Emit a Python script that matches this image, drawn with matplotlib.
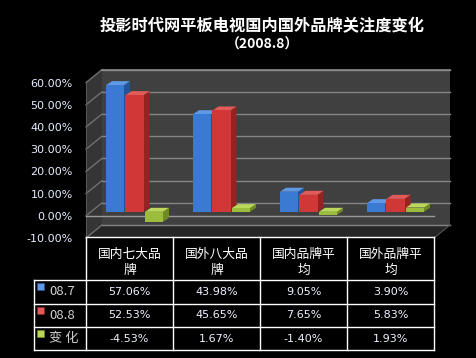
import matplotlib
matplotlib.use("Agg")
import matplotlib.pyplot as plt
from matplotlib.patches import Polygon, Rectangle
from matplotlib.transforms import blended_transform_factory

plt.rcParams['font.family'] = ['Noto Sans CJK SC', 'DejaVu Sans']

# data
categories = ["国内七大品\n牌", "国外八大品\n牌", "国内品牌平\n均", "国外品牌平\n均"]
series_names = ["08.7", "08.8", "变 化"]
jul = [57.06, 43.98, 9.05, 3.90]
aug = [52.53, 45.65, 7.65, 5.83]
change = [-4.53, 1.67, -1.40, 1.93]
yticks = [-10, 0, 10, 20, 30, 40, 50, 60]

series = [jul, aug, change]
# (front, side, top) for each series
colors = [("#3a7ad2", "#24539a", "#5e98e6"),
          ("#d03838", "#962222", "#e25a5a"),
          ("#9cbc3c", "#6f8a22", "#bcd85a")]

W, H = 477, 358
fig = plt.figure(figsize=(W / 100, H / 100), dpi=100, facecolor="black")


def box(x0, y0, x1, y1):
    return [x0 / W, 1 - y1 / H, (x1 - x0) / W, (y1 - y0) / H]


ax = fig.add_axes(box(86, 60.4, 434, 238))
ax.set_facecolor("none")
ax.set_xlim(0, 4)
ax.set_ylim(-10, 70)
for s in ax.spines.values():
    s.set_visible(False)
ax.set_xticks([])
ax.set_yticks(yticks)
ax.set_yticklabels([f"{v:.2f}%" for v in yticks], family="DejaVu Sans")
ax.tick_params(axis="y", length=0, pad=9.5, labelsize=8, labelcolor="#e6eeff")

# 3d box: back wall, side wall, floor
DX, DY = 16 / 87, 13 / 2.22
ax.add_patch(Polygon([(DX, -10 + DY), (4 + DX, -10 + DY), (4 + DX, 60 + DY), (DX, 60 + DY)],
                     fc="#404040", ec="none", zorder=0, clip_on=False))
ax.add_patch(Polygon([(0, -10), (DX, -10 + DY), (DX, 60 + DY), (0, 60)],
                     fc="#353535", ec="none", zorder=0, clip_on=False))
ax.add_patch(Polygon([(0, -10), (4, -10), (4 + DX, -10 + DY), (DX, -10 + DY)],
                     fc="#262626", ec="none", zorder=0, clip_on=False))
for v in yticks:
    ax.plot([DX, 4 + DX], [v + DY] * 2, color="#858585", lw=1, zorder=1, clip_on=False)
    ax.plot([0, DX], [v, v + DY], color="#707070", lw=1, zorder=1, clip_on=False)
ax.plot([DX, 4 + DX], [60 + DY] * 2, color="#8a8a8a", lw=1.2, zorder=1, clip_on=False)
ax.plot([0, 0], [-10, 60], color="#555555", lw=0.8, zorder=1, clip_on=False)
ax.plot([4, 4 + DX], [-10, -10 + DY], color="#555555", lw=0.8, zorder=1, clip_on=False)
ax.plot([0, 4], [0, 0], color="#9a9a9a", lw=1, zorder=1.5, clip_on=False)

# bars
bw, step, off = 0.207, 0.224, 0.23
bdx, bdy, base = 6 / 87, 4 / 2.22, 1.8
for j, vals in enumerate(series):
    front, side, top = colors[j]
    for i, v in enumerate(vals):
        x0 = i + off + j * step
        lo, hi = min(base, base + v), max(base, base + v)
        ax.add_patch(Polygon([(x0 + bw, lo), (x0 + bw + bdx, lo + bdy), (x0 + bw + bdx, hi + bdy), (x0 + bw, hi)],
                             fc=side, ec="none", zorder=3, clip_on=False))
        ax.add_patch(Polygon([(x0, hi), (x0 + bdx, hi + bdy), (x0 + bw + bdx, hi + bdy), (x0 + bw, hi)],
                             fc=top, ec="none", zorder=3, clip_on=False))
        ax.add_patch(Rectangle((x0, lo), bw, hi - lo, fc=front, ec="none", zorder=4, clip_on=False))

# data table below the plot
tr = blended_transform_factory(ax.transData, fig.transFigure)
rows_px = [237, 280, 303.5, 327, 350]
fy = [1 - y / H for y in rows_px]
xl = -0.598
lk = dict(color="white", lw=1, transform=tr, clip_on=False)
ax.plot([0, 4], [fy[0]] * 2, **lk)
for y in fy[1:]:
    ax.plot([xl, 4], [y, y], **lk)
for x in range(5):
    ax.plot([x, x], [fy[0], fy[-1]], **lk)
ax.plot([xl, xl], [fy[1], fy[-1]], **lk)

for i, c in enumerate(categories):
    ax.text(i + 0.5, (fy[0] + fy[1]) / 2 - 4 / H, c, transform=tr, ha="center", va="center",
            fontsize=9.2, color="white", linespacing=1.3)

for j, vals in enumerate(series):
    yc = (fy[j + 1] + fy[j + 2]) / 2
    ax.add_patch(Rectangle((-0.56, yc + 1.5 / H), 7 / 87, 7 / H, transform=tr,
                           fc=colors[j][2], ec=colors[j][1], lw=0.5, clip_on=False))
    ax.text(-0.425, yc, series_names[j], transform=tr, ha="left", va="center",
            fontsize=9.5, color="#d0d0d0")
    for i, v in enumerate(vals):
        ax.text(i + 0.5, yc, f"{v:.2f}%", transform=tr, ha="center", va="center",
                fontsize=8, color="#eef3ff", family="DejaVu Sans")

fig.text(262 / W, 1 - 26 / H, "投影时代网平板电视国内国外品牌关注度变化",
         ha="center", va="center", fontsize=11.7, weight="bold", color="white")
fig.text(262 / W, 1 - 45 / H, "（2008.8）", ha="center", va="center",
         fontsize=10, weight="bold", color="white")

fig.savefig("out.png", dpi=100, facecolor="black")
